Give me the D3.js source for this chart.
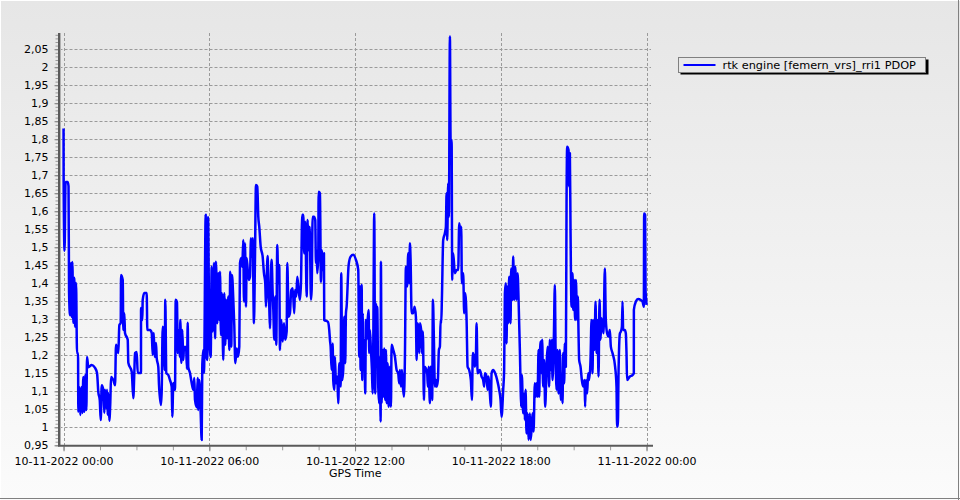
<!DOCTYPE html>
<html>
<head>
<meta charset="utf-8">
<script src="https://cdnjs.cloudflare.com/ajax/libs/d3/7.8.5/d3.min.js"></script>
<style>
  html, body { margin: 0; padding: 0; background: #fff; }
  svg { display: block; }
  text { font-family: "DejaVu Sans", Verdana, sans-serif; font-size: 11px; fill: #000; }
</style>
</head>
<body>
<svg id="chart" width="960" height="500"></svg>
<script>
// ---------- DATA ----------
const seriesName = "rtk engine [femern_vrs]_rri1 PDOP";
const xAxisTitle = "GPS Time";
const startDate = "2022-11-10T00:00:00Z";
const xTickHours = [0, 6, 12, 18, 24];
const xTickLabels = ["10-11-2022 00:00", "10-11-2022 06:00", "10-11-2022 12:00", "10-11-2022 18:00", "11-11-2022 00:00"];
const yTicks = [0.95, 1, 1.05, 1.1, 1.15, 1.2, 1.25, 1.3, 1.35, 1.4, 1.45, 1.5, 1.55, 1.6, 1.65, 1.7, 1.75, 1.8, 1.85, 1.9, 1.95, 2, 2.05];
const yTickLabels = ["0,95", "1", "1,05", "1,1", "1,15", "1,2", "1,25", "1,3", "1,35", "1,4", "1,45", "1,5", "1,55", "1,6", "1,65", "1,7", "1,75", "1,8", "1,85", "1,9", "1,95", "2", "2,05"];

// minutes after 10-11-2022 00:00
const minutes = [
  0, 0.2, 2.5, 4.9, 9.9, 12.3, 13.6, 16, 18.5, 20.2, 21.7, 24.2, 26.7, 28.4, 30.9, 33.3, 35.8, 36.5, 39, 41.5,
  44, 46.4, 48.9, 51.4, 53.8, 56.3, 58, 61.2, 69.6, 77.8, 82.7, 85.9, 89.4, 91.8, 94.3, 98.3, 100.7, 102.5, 104.9, 107.4,
  109.1, 110.6, 113.1, 115.5, 117.3, 123, 127.2, 129.6, 135.3, 137.8, 141.2, 142, 146.2, 147.6, 150.1, 151.8, 158.5, 160, 168.4, 172.3,
  174.8, 176.5, 180.7, 183.2, 191.3, 191.4, 194.6, 195.5, 199.5, 205.4, 206.9, 213.6, 217.8, 220.2, 222.7, 225.2, 228.4, 230.1, 234.1, 235.8,
  240.7, 242.5, 244.9, 248.1, 249.9, 251.3, 253.8, 258.8, 262.9, 267.1, 268.6, 271.1, 275.3, 277, 280.2, 282, 285.2, 286.9, 288.4, 290.9,
  293.3, 295.8, 297.5, 302.5, 304.9, 306.7, 308.1, 312.3, 316.5, 320.5, 322.9, 324.7, 328.9, 331.3, 332.8, 335.3, 338.7, 341.2, 342.7, 345.2,
  346.9, 351.1, 352.6, 355.1, 356.8, 360, 363.4, 365.9, 368.4, 371.6, 374.1, 376.5, 379.7, 382.2, 384.7, 386.4, 388.9, 391.3, 394.5, 397,
  399.5, 401.2, 404.4, 406.9, 409.4, 411.8, 414.3, 416, 419.2, 421.7, 424.2, 427.6, 430.8, 434.1, 435.8, 439, 441.5, 443.9, 445.6, 448.1,
  450.6, 452.3, 457.3, 460.5, 462.9, 465.4, 467.1, 470.3, 472.8, 475.3, 478.5, 481, 483.4, 486.9, 491.8, 495, 498.2, 500, 501.7, 504.2,
  505.7, 508.1, 509.9, 511.6, 514, 516.5, 518, 520.5, 523, 525.4, 527.9, 530.4, 532.8, 534.5, 537.8, 541.2, 544.4, 547.6, 551.1, 552.6,
  556, 559.2, 562.4, 565.9, 569.8, 571.6, 574.8, 577.3, 580.7, 583.9, 586.4, 589.6, 592.1, 594.5, 597, 600.5, 602.9, 605.4, 607.9, 611.1,
  612.8, 615.3, 618.5, 621.7, 623.4, 625.2, 626.6, 629.1, 630.1, 633.3, 635.8, 638.2, 640, 643.2, 643.9, 653, 656.3, 658, 659.7, 662.2,
  664.7, 666.1, 668.6, 670.3, 672.8, 676, 678.5, 681, 684.4, 685.9, 688.4, 690.8, 693.3, 695.8, 697.5, 699.2, 704.2, 709.1, 715.5, 722.2,
  727.9, 730.4, 732, 733.8, 736.3, 737.8, 738.8, 740.2, 742, 743.7, 745.1, 746.9, 748.6, 751.1, 753.5, 755, 756.8, 759.2, 761.7, 763.4,
  764.9, 767.4, 769.8, 771.6, 773.3, 774.8, 777.3, 779.7, 781.4, 783.2, 783.9, 785.6, 788.1, 789.6, 792.1, 794.5, 796.3, 798, 800.5, 802.9,
  806.1, 808.6, 810.3, 814.3, 818.5, 822.7, 826.6, 829.1, 830.8, 833.3, 835.8, 837.5, 840.7, 843.2, 845.6, 848.8, 851.3, 853.8, 855.5, 857.2,
  859.7, 863.7, 867.1, 870.3, 872.1, 873.5, 877, 878.5, 880.2, 883.4, 885.1, 887.6, 890.1, 891.8, 898.2, 899.9, 901.7, 904.9, 906.6, 909.1,
  910.5, 912.3, 914.8, 917.2, 919.7, 921.4, 924.6, 927.1, 929.6, 931.3, 932.8, 934.5, 937.7, 941.9, 944.4, 946.1, 947.6, 950.1, 951.8, 954.3,
  956, 958.5, 960, 962.4, 966.6, 970.8, 974.8, 977.3, 980.7, 982.2, 983.9, 987.1, 989.6, 992.1, 995.5, 998, 1001.9, 1006.1, 1008.6, 1011,
  1013.5, 1016, 1018.5, 1020.2, 1022.7, 1028.3, 1032.5, 1036.5, 1039, 1040.7, 1044.9, 1047.4, 1049.8, 1053, 1055.5, 1057.2, 1061.2, 1066.1, 1071.1, 1076,
  1079.4, 1081.9, 1085.9, 1088.3, 1090.1, 1092.5, 1094.2, 1095.7, 1098.2, 1100.7, 1104.1, 1105.6, 1109.1, 1110.6, 1113, 1115.5, 1118.9, 1121.4, 1123.9, 1127.1,
  1128.8, 1130.3, 1132, 1135.2, 1137.7, 1139.4, 1141.2, 1143.6, 1146.1, 1148.6, 1151.8, 1153.5, 1156, 1158.4, 1160.9, 1164.1, 1166.6, 1168.3, 1170.8, 1173.3,
  1174.8, 1176.5, 1178.2, 1180.7, 1182.2, 1184.6, 1187.1, 1189.6, 1193, 1195.5, 1197, 1199.4, 1201.2, 1203.7, 1206.1, 1207.8, 1211.1, 1213.5, 1215.3, 1217.7,
  1220.2, 1222.6, 1225.8, 1228.3, 1230.8, 1232.5, 1234, 1236.5, 1238.2, 1240.7, 1242.4, 1243.9, 1247.3, 1248.8, 1250.6, 1252.3, 1254.7, 1257.2, 1258.7, 1261.2,
  1263.6, 1265.4, 1268.6, 1270.3, 1272, 1273.5, 1277, 1280.2, 1283.4, 1286.8, 1288.3, 1290, 1293.3, 1295.7, 1298.2, 1301.6, 1304.1, 1306.6, 1308.1, 1311.5,
  1314, 1316.4, 1318.9, 1321.4, 1323.9, 1326.3, 1328.8, 1333.7, 1337, 1339.4, 1342.6, 1346.1, 1349.3, 1351.8, 1356, 1362.4, 1365.8, 1367.3, 1369.1, 1370.8,
  1374.2, 1376.7, 1379.1, 1380.7, 1382.2, 1386.3, 1388.8, 1390.5, 1391.9, 1398.7, 1405.3, 1408.6, 1408.7, 1413.5, 1419.2, 1425.1, 1430.1, 1433.3, 1434.1, 1436.5,
  1437.5, 1439, 1440
];
const pdop = [
  1.830, 1.687, 1.490, 1.681, 1.681, 1.670, 1.376, 1.311, 1.456, 1.306, 1.459, 1.290, 1.415, 1.279, 1.401, 1.206, 1.206, 1.043, 1.112, 1.034,
  1.112, 1.040, 1.140, 1.043, 1.145, 1.048, 1.195, 1.167, 1.173, 1.165, 1.151, 1.098, 1.076, 1.020, 1.117, 1.104, 1.040, 1.104, 1.054, 1.104,
  1.034, 1.095, 1.018, 1.070, 1.140, 1.131, 1.117, 1.229, 1.206, 1.284, 1.290, 1.423, 1.409, 1.270, 1.317, 1.262, 1.243, 1.179, 1.154, 1.081,
  1.151, 1.206, 1.209, 1.151, 1.151, 1.331, 1.298, 1.354, 1.373, 1.373, 1.270, 1.270, 1.262, 1.201, 1.262, 1.195, 1.234, 1.192, 1.167, 1.117,
  1.062, 1.104, 1.279, 1.262, 1.159, 1.354, 1.151, 1.145, 1.131, 1.112, 1.029, 1.123, 1.104, 1.354, 1.348, 1.206, 1.270, 1.195, 1.298, 1.179,
  1.270, 1.187, 1.223, 1.223, 1.162, 1.290, 1.167, 1.151, 1.123, 1.104, 1.137, 1.076, 1.056, 1.137, 1.048, 1.131, 1.040, 0.965, 1.173, 1.215,
  1.151, 1.590, 1.201, 1.187, 1.584, 1.270, 1.195, 1.446, 1.266, 1.456, 1.247, 1.460, 1.289, 1.428, 1.298, 1.432, 1.256, 1.372, 1.187, 1.372,
  1.229, 1.354, 1.247, 1.363, 1.215, 1.432, 1.224, 1.423, 1.358, 1.284, 1.178, 1.219, 1.196, 1.224, 1.456, 1.470, 1.446, 1.520, 1.349, 1.511,
  1.335, 1.470, 1.409, 1.418, 1.525, 1.474, 1.525, 1.289, 1.465, 1.673, 1.669, 1.585, 1.557, 1.502, 1.474, 1.428, 1.400, 1.335, 1.409, 1.476,
  1.390, 1.335, 1.275, 1.400, 1.465, 1.372, 1.330, 1.243, 1.363, 1.229, 1.506, 1.400, 1.451, 1.215, 1.298, 1.238, 1.289, 1.243, 1.266, 1.456,
  1.307, 1.317, 1.381, 1.386, 1.317, 1.381, 1.363, 1.418, 1.381, 1.354, 1.400, 1.590, 1.590, 1.483, 1.571, 1.363, 1.576, 1.492, 1.557, 1.354,
  1.381, 1.585, 1.585, 1.576, 1.456, 1.492, 1.428, 1.470, 1.654, 1.650, 1.404, 1.492, 1.437, 1.483, 1.298, 1.293, 1.270, 1.243, 1.224, 1.159,
  1.233, 1.131, 1.104, 1.196, 1.122, 1.141, 1.067, 1.178, 1.113, 1.428, 1.131, 1.159, 1.307, 1.178, 1.317, 1.335, 1.451, 1.474, 1.479, 1.465,
  1.437, 1.196, 1.391, 1.159, 1.395, 1.131, 1.317, 1.159, 1.243, 1.206, 1.094, 1.298, 1.243, 1.298, 1.326, 1.206, 1.270, 1.215, 1.159, 1.094,
  1.215, 1.594, 1.094, 1.344, 1.206, 1.335, 1.113, 1.067, 1.196, 1.016, 1.460, 1.067, 1.215, 1.085, 1.219, 1.076, 1.215, 1.067, 1.178, 1.057,
  1.168, 1.057, 1.229, 1.215, 1.196, 1.159, 1.150, 1.122, 1.159, 1.113, 1.159, 1.122, 1.085, 1.196, 1.446, 1.391, 1.483, 1.400, 1.511, 1.465,
  1.317, 1.317, 1.335, 1.307, 1.187, 1.289, 1.279, 1.206, 1.289, 1.270, 1.206, 1.266, 1.076, 1.168, 1.150, 1.113, 1.168, 1.067, 1.168, 1.159,
  1.076, 1.354, 1.243, 1.113, 1.131, 1.113, 1.131, 1.215, 1.224, 1.298, 1.289, 1.354, 1.520, 1.539, 1.557, 1.650, 1.520, 1.678, 1.585, 2.085,
  1.798, 1.798, 1.409, 1.483, 1.428, 1.437, 1.437, 1.567, 1.539, 1.557, 1.400, 1.428, 1.317, 1.372, 1.298, 1.168, 1.159, 1.131, 1.076, 1.206,
  1.196, 1.168, 1.196, 1.289, 1.150, 1.159, 1.141, 1.131, 1.113, 1.150, 1.141, 1.104, 1.141, 1.094, 1.057, 1.150, 1.159, 1.150, 1.131, 1.104,
  1.076, 1.029, 1.104, 1.159, 1.372, 1.400, 1.233, 1.391, 1.289, 1.418, 1.289, 1.441, 1.354, 1.474, 1.354, 1.446, 1.354, 1.428, 1.354, 1.215,
  1.122, 1.057, 1.145, 1.039, 1.094, 1.020, 1.104, 0.983, 1.039, 0.965, 1.039, 0.965, 0.993, 1.039, 0.988, 1.122, 1.085, 1.122, 1.085, 1.215,
  1.085, 1.187, 1.238, 1.150, 1.243, 1.113, 1.187, 1.057, 1.168, 1.224, 1.206, 1.113, 1.243, 1.159, 1.243, 1.131, 1.252, 1.395, 1.215, 1.104,
  1.215, 1.094, 1.215, 1.076, 1.150, 1.067, 1.206, 1.122, 1.233, 1.168, 1.622, 1.779, 1.770, 1.669, 1.761, 1.539, 1.335, 1.428, 1.326, 1.409,
  1.298, 1.409, 1.298, 1.363, 1.261, 1.187, 1.168, 1.131, 1.113, 1.131, 1.057, 1.131, 1.094, 1.150, 1.131, 1.187, 1.298, 1.150, 1.298, 1.215,
  1.349, 1.206, 1.298, 1.141, 1.354, 1.243, 1.303, 1.261, 1.441, 1.298, 1.261, 1.252, 1.270, 1.224, 1.206, 1.168, 1.113, 1.002, 1.002, 1.150,
  1.261, 1.266, 1.279, 1.349, 1.270, 1.270, 1.261, 1.206, 1.131, 1.141, 1.145, 1.150, 1.326, 1.349, 1.356, 1.354, 1.349, 1.335, 1.594, 1.590,
  1.381, 1.354, 1.340
];

// ---------- LAYOUT ----------
const W = 960, H = 500;
const plot = { left: 59.5, right: 651, top: 33, bottom: 445.3 };
const svg = d3.select("#chart");

const defs = svg.append("defs");
const grad = defs.append("linearGradient").attr("id", "bg").attr("x1", 0).attr("y1", 0).attr("x2", 0).attr("y2", 1);
grad.append("stop").attr("offset", "0%").attr("stop-color", "#e6e6e6");
grad.append("stop").attr("offset", "100%").attr("stop-color", "#fbfbfb");

svg.append("rect").attr("x", 0).attr("y", 0).attr("width", W).attr("height", H).attr("fill", "url(#bg)");
// frame (3D style)
svg.append("line").attr("x1", 0.5).attr("y1", 0).attr("x2", 0.5).attr("y2", H).attr("stroke", "#ffffff");
svg.append("line").attr("x1", 0).attr("y1", 0.5).attr("x2", W).attr("y2", 0.5).attr("stroke", "#ffffff");
svg.append("line").attr("x1", W - 1.5).attr("y1", 0).attr("x2", W - 1.5).attr("y2", H).attr("stroke", "#808080");
svg.append("line").attr("x1", 0).attr("y1", H - 1.5).attr("x2", W).attr("y2", H - 1.5).attr("stroke", "#808080");

const t0 = new Date(startDate);
const toDate = m => new Date(t0.getTime() + m * 60000);

const x = d3.scaleUtc()
  .domain([toDate(-10), toDate(1451)])
  .range([plot.left, plot.right]);
const y = d3.scaleLinear()
  .domain([0.95, 2.095])
  .range([plot.bottom, plot.top]);

// ---------- GRID ----------
const grid = svg.append("g").attr("stroke", "#9a9a9a").attr("stroke-width", 1).attr("stroke-dasharray", "3,2");
grid.selectAll("line.h").data(yTicks.filter(v => v > 0.95)).enter().append("line")
  .attr("x1", plot.left).attr("x2", plot.right)
  .attr("y1", d => Math.round(y(d)) + 0.5).attr("y2", d => Math.round(y(d)) + 0.5);
grid.selectAll("line.v").data(xTickHours.filter(h => h > 0)).enter().append("line")
  .attr("x1", d => Math.round(x(toDate(d * 60))) + 0.5).attr("x2", d => Math.round(x(toDate(d * 60))) + 0.5)
  .attr("y1", plot.top).attr("y2", plot.bottom);
// vertical line at 00:00 (first)
grid.append("line")
  .attr("x1", Math.round(x(toDate(0))) + 0.5).attr("x2", Math.round(x(toDate(0))) + 0.5)
  .attr("y1", plot.top).attr("y2", plot.bottom);

// ---------- AXES ----------
const yMinor = d3.range(95, 210).map(v => v / 100);
const yAxisMinor = d3.axisLeft(y).tickValues(yMinor).tickSize(3).tickFormat("");
const yAxisMajor = d3.axisLeft(y).tickValues(yTicks).tickSize(4).tickPadding(6)
  .tickFormat((d, i) => yTickLabels[i]);

const gyMinor = svg.append("g").attr("transform", `translate(${plot.left - 1},0)`).call(yAxisMinor);
gyMinor.select(".domain").remove();
gyMinor.selectAll("line").attr("stroke", "#9a9a9a");
const gy = svg.append("g").attr("transform", `translate(${plot.left - 1},0)`).call(yAxisMajor);
gy.select(".domain").remove();
gy.selectAll("line").attr("stroke", "#808080");
gy.selectAll("text").style("font-family", '"DejaVu Sans", Verdana, sans-serif').style("font-size", "11px").attr("fill", "#000");

const xMinorDates = d3.range(0, 1441, 90).map(toDate);
const xAxisMinor = d3.axisBottom(x).tickValues(xMinorDates).tickSize(4).tickFormat("");
const xAxisMajor = d3.axisBottom(x).tickValues(xTickHours.map(h => toDate(h * 60))).tickSize(5).tickPadding(6)
  .tickFormat((d, i) => xTickLabels[i]);
const gxMinor = svg.append("g").attr("transform", `translate(0,${plot.bottom + 1})`).call(xAxisMinor);
gxMinor.select(".domain").remove();
gxMinor.selectAll("line").attr("stroke", "#9a9a9a");
const gx = svg.append("g").attr("transform", `translate(0,${plot.bottom + 1})`).call(xAxisMajor);
gx.select(".domain").remove();
gx.selectAll("line").attr("stroke", "#808080");
gx.selectAll("text").style("font-family", '"DejaVu Sans", Verdana, sans-serif').style("font-size", "11px").attr("fill", "#000");

// axis lines (thick, dark)
svg.append("line").attr("x1", plot.left - 0.5).attr("x2", plot.left - 0.5).attr("y1", plot.top).attr("y2", plot.bottom + 1)
  .attr("stroke", "#5a5a5a").attr("stroke-width", 2);
svg.append("line").attr("x1", plot.left + 1).attr("x2", plot.left + 1).attr("y1", plot.top).attr("y2", plot.bottom)
  .attr("stroke", "#b0b0b0").attr("stroke-width", 1);
svg.append("line").attr("x1", plot.left - 1.5).attr("x2", plot.right + 2).attr("y1", plot.bottom + 0.5).attr("y2", plot.bottom + 0.5)
  .attr("stroke", "#5a5a5a").attr("stroke-width", 2);

svg.append("text").attr("x", (plot.left + plot.right) / 2).attr("y", 477)
  .attr("text-anchor", "middle").text(xAxisTitle);

// ---------- SERIES ----------
const data = minutes.map((m, i) => ({ t: toDate(m), v: pdop[i] }));
const line = d3.line().x(d => x(d.t)).y(d => y(d.v)).curve(d3.curveMonotoneX);
svg.append("path").datum(data)
  .attr("d", line)
  .attr("fill", "none")
  .attr("stroke", "#0000ff")
  .attr("stroke-width", 2.5)
  .attr("stroke-linejoin", "round");

// ---------- LEGEND ----------
const lg = svg.append("g").attr("transform", "translate(678.5,57.5)");
lg.append("rect").attr("x", 2).attr("y", 2).attr("width", 248).attr("height", 15).attr("fill", "#000");
lg.append("rect").attr("x", 0).attr("y", 0).attr("width", 247).attr("height", 15).attr("fill", "#e9e9e9").attr("stroke", "#808080");
lg.append("line").attr("x1", 5).attr("x2", 37).attr("y1", 7.5).attr("y2", 7.5).attr("stroke", "#0000ff").attr("stroke-width", 2);
lg.append("text").attr("x", 44).attr("y", 11.5).style("font-size", "11.3px").text(seriesName);
</script>
</body>
</html>
